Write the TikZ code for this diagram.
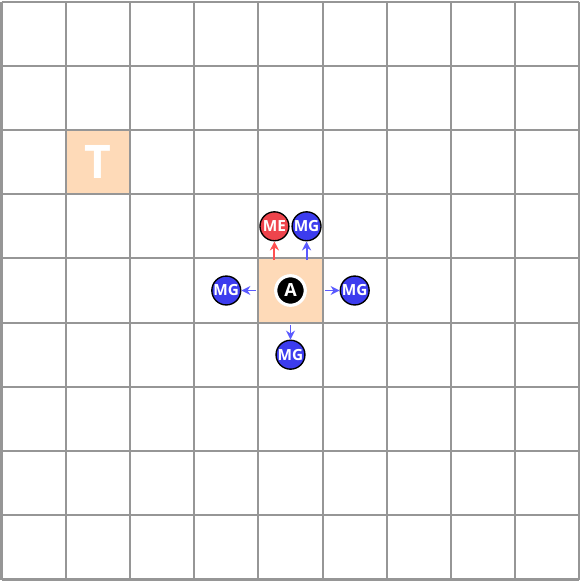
\documentclass[tikz,border=0pt]{standalone}
\usepackage{fontspec}
\setmainfont{Open Sans}
\usetikzlibrary{arrows.meta}
\definecolor{peach}{RGB}{254,218,184}
\definecolor{gridgray}{RGB}{150,150,150}
\definecolor{mered}{RGB}{238,68,76}
\definecolor{mgblue}{RGB}{60,60,238}
\definecolor{arrred}{RGB}{255,80,80}
\definecolor{arrblue}{RGB}{90,90,255}
\begin{document}
\begin{tikzpicture}[
  cell/.style={fill=peach, minimum size=1cm, inner sep=0pt},
  agent/.style={circle, fill=black, draw=white, line width=1.4pt, minimum size=0.46cm, inner sep=0pt, text=white, font=\fontsize{8}{9}\selectfont\bfseries},
  token/.style={circle, draw=black, line width=0.6pt, minimum size=0.45cm, inner sep=0pt, text=white, font=\fontsize{6.8}{8}\selectfont\bfseries},
  me/.style={token, fill=mered},
  mg/.style={token, fill=mgblue},
  move/.style={-{Stealth[length=4pt,width=4pt]}, line width=0.85pt}
]
\useasboundingbox (-0.0234,0.0234) rectangle (9.0237,-9.039);
% highlighted cells
\node[cell, text=white, font=\fontsize{20.5}{22}\selectfont\bfseries] (target) at (1.5,-2.5) {T};
\node[cell] (home) at (4.5,-4.5) {};

\draw[gridgray, line width=0.9pt] (0,0) grid (9,-9);

\node[agent] (agt) at (4.5,-4.5) {A};
\node[me] (meup) at (4.25,-3.5) {ME};
\node[mg] (mgup) at (4.75,-3.5) {MG};
\node[mg] (mgleft) at (3.5,-4.5) {MG};
\node[mg] (mgright) at (5.5,-4.5) {MG};
\node[mg] (mgdown) at (4.5,-5.5) {MG};

\draw[move, arrred] ([yshift=-1pt]home.north -| meup) -- (meup);
\draw[move, arrblue] ([yshift=-1pt]home.north -| mgup) -- (mgup);
\draw[move, arrblue] ([xshift=-1pt]home.west) -- (mgleft);
\draw[move, arrblue] ([xshift=1pt]home.east) -- (mgright);
\draw[move, arrblue] ([yshift=-1pt]home.south) -- (mgdown);
\end{tikzpicture}
\end{document}
